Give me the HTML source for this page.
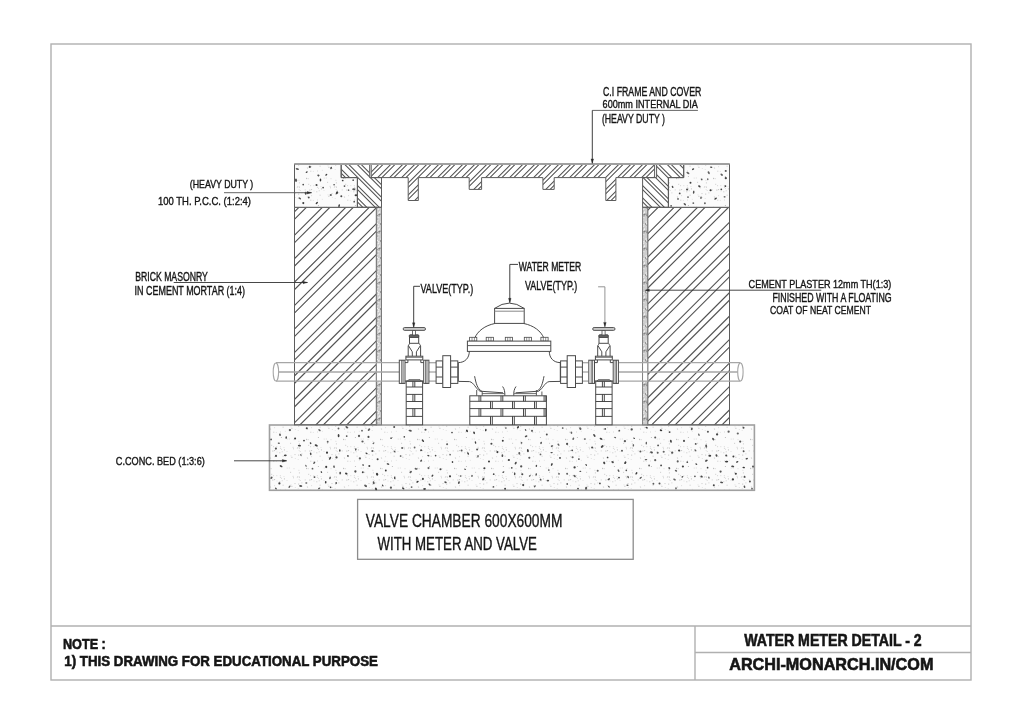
<!DOCTYPE html>
<html><head><meta charset="utf-8"><style>
html,body{margin:0;padding:0;background:#fff;}
svg{display:block;filter:grayscale(100%);}
</style></head><body>
<svg width="1024" height="724" viewBox="0 0 1024 724">
<defs><pattern id="spk" patternUnits="userSpaceOnUse" x="0" y="0" width="37" height="29"><rect x="11.7" y="4.2" width="1" height="1" fill="#d0d0d0"/><rect x="2.6" y="15.0" width="1" height="1" fill="#e2e2e2"/><rect x="21.0" y="25.5" width="1" height="1" fill="#dadada"/><rect x="1.3" y="12.1" width="1" height="1" fill="#d0d0d0"/><rect x="8.7" y="15.4" width="1" height="1" fill="#d0d0d0"/><rect x="29.8" y="3.5" width="1" height="1" fill="#dadada"/><rect x="22.7" y="16.3" width="1" height="1" fill="#d0d0d0"/><rect x="20.8" y="11.1" width="1" height="1" fill="#dadada"/><rect x="1.7" y="24.0" width="1" height="1" fill="#e2e2e2"/><rect x="15.1" y="15.1" width="1" height="1" fill="#bdbdbd"/><rect x="11.1" y="22.9" width="1" height="1" fill="#dadada"/><rect x="3.7" y="16.0" width="1" height="1" fill="#dadada"/><rect x="13.4" y="15.3" width="1" height="1" fill="#d0d0d0"/><rect x="20.3" y="17.3" width="1" height="1" fill="#c8c8c8"/><rect x="24.5" y="12.0" width="1" height="1" fill="#e2e2e2"/><rect x="16.8" y="25.9" width="1" height="1" fill="#e2e2e2"/><rect x="10.8" y="22.2" width="1" height="1" fill="#dadada"/><rect x="2.9" y="8.4" width="1" height="1" fill="#c8c8c8"/><rect x="31.5" y="20.4" width="1" height="1" fill="#e2e2e2"/><rect x="21.9" y="2.0" width="1" height="1" fill="#bdbdbd"/><rect x="15.1" y="21.2" width="1" height="1" fill="#dadada"/><rect x="33.6" y="11.8" width="1" height="1" fill="#d0d0d0"/><rect x="27.5" y="16.0" width="1" height="1" fill="#e2e2e2"/><rect x="12.2" y="9.8" width="1" height="1" fill="#c8c8c8"/><rect x="20.9" y="12.8" width="1" height="1" fill="#d0d0d0"/><rect x="34.0" y="13.3" width="1" height="1" fill="#d0d0d0"/><rect x="2.2" y="19.6" width="1" height="1" fill="#bdbdbd"/><rect x="35.8" y="23.0" width="1" height="1" fill="#e2e2e2"/><rect x="25.8" y="24.8" width="1" height="1" fill="#e2e2e2"/><rect x="0.8" y="12.9" width="1" height="1" fill="#dadada"/><rect x="22.0" y="13.8" width="1" height="1" fill="#dadada"/><rect x="27.7" y="3.6" width="1" height="1" fill="#dadada"/><rect x="14.3" y="25.7" width="1" height="1" fill="#c8c8c8"/><rect x="2.9" y="12.6" width="1" height="1" fill="#bdbdbd"/><rect x="10.0" y="3.8" width="1" height="1" fill="#c8c8c8"/><rect x="31.1" y="7.8" width="1" height="1" fill="#c8c8c8"/><rect x="35.5" y="19.1" width="1" height="1" fill="#c8c8c8"/><rect x="34.5" y="4.2" width="1" height="1" fill="#dadada"/><rect x="5.4" y="18.4" width="1" height="1" fill="#d0d0d0"/><rect x="17.5" y="16.5" width="1" height="1" fill="#e2e2e2"/><rect x="10.1" y="4.1" width="1" height="1" fill="#bdbdbd"/><rect x="13.3" y="15.9" width="1" height="1" fill="#dadada"/><rect x="24.9" y="14.4" width="1" height="1" fill="#bdbdbd"/><rect x="23.6" y="20.7" width="1" height="1" fill="#c8c8c8"/><rect x="32.4" y="21.8" width="1" height="1" fill="#bdbdbd"/><rect x="14.1" y="11.2" width="1" height="1" fill="#d0d0d0"/><rect x="17.3" y="11.2" width="1" height="1" fill="#dadada"/><rect x="2.4" y="5.8" width="1" height="1" fill="#dadada"/></pattern><pattern id="spk2" patternUnits="userSpaceOnUse" x="0" y="0" width="5" height="17"><rect x="0.4" y="9.6" width="1.2" height="1.2" fill="#777777"/><rect x="0.0" y="2.4" width="1.2" height="1.2" fill="#777777"/><rect x="3.8" y="9.8" width="1.2" height="1.2" fill="#777777"/><rect x="3.5" y="9.8" width="1.2" height="1.2" fill="#8a8a8a"/><rect x="2.5" y="15.3" width="1.2" height="1.2" fill="#f4f4f4"/><rect x="1.5" y="2.0" width="1.2" height="1.2" fill="#ffffff"/><rect x="4.0" y="7.5" width="1.2" height="1.2" fill="#ffffff"/><rect x="1.2" y="2.3" width="1.2" height="1.2" fill="#eeeeee"/><rect x="1.4" y="4.2" width="1.2" height="1.2" fill="#eeeeee"/><rect x="0.6" y="0.4" width="1.2" height="1.2" fill="#f4f4f4"/><rect x="1.4" y="11.0" width="1.2" height="1.2" fill="#777777"/><rect x="3.0" y="4.8" width="1.2" height="1.2" fill="#eeeeee"/><rect x="3.5" y="11.1" width="1.2" height="1.2" fill="#9a9a9a"/><rect x="2.1" y="14.5" width="1.2" height="1.2" fill="#9a9a9a"/><rect x="3.1" y="8.5" width="1.2" height="1.2" fill="#f4f4f4"/><rect x="1.3" y="3.6" width="1.2" height="1.2" fill="#8a8a8a"/><rect x="3.2" y="13.1" width="1.2" height="1.2" fill="#eeeeee"/><rect x="3.2" y="3.2" width="1.2" height="1.2" fill="#ffffff"/></pattern><clipPath id="cp1"><polygon points="294.5,207.3 376.4,207.3 376.4,424.8 294.5,424.8"/></clipPath><clipPath id="cp2"><polygon points="647.7,207.3 729.5,207.3 729.5,424.8 647.7,424.8"/></clipPath><clipPath id="cp3"><polygon points="341.2,163.9 369.7,163.9 369.7,177.6 381.5,177.6 381.5,207.3 357.4,207.3 357.4,177.6 341.2,177.6"/></clipPath><clipPath id="cp4"><polygon points="656.6,163.9 683.7,163.9 683.7,177.6 668.4,177.6 668.4,207.3 642.6,207.3 642.6,177.6 656.6,177.6"/></clipPath><clipPath id="cp5"><polygon points="371.2,163.9 654.6,163.9 654.6,177.6 615.9,177.6 615.9,200.5 605.8,200.5 605.8,177.6 554.2,177.6 554.2,189.4 542.9,189.4 542.9,177.6 481.6,177.6 481.6,189.4 469.2,189.4 469.2,177.6 418.3,177.6 418.3,200.5 408.2,200.5 408.2,177.6 371.2,177.6"/></clipPath></defs>
<rect x="0" y="0" width="1024" height="724" fill="#fff"/>
<rect x="51" y="44" width="920" height="636" fill="none" stroke="#b0b0b0" stroke-width="1.4" />
<line x1="51" y1="626" x2="971" y2="626" stroke="#b0b0b0" stroke-width="1.4" />
<line x1="695" y1="626" x2="695" y2="680" stroke="#b0b0b0" stroke-width="1.4" />
<line x1="695" y1="652.5" x2="971" y2="652.5" stroke="#b0b0b0" stroke-width="1.4" />
<rect x="269.5" y="425.0" width="484.9" height="65.30000000000001" fill="#fbfbfb" stroke="none" stroke-width="0" />
<rect x="269.5" y="425.0" width="484.9" height="65.30000000000001" fill="url(#spk)" stroke="#a0a0a0" stroke-width="1.6" />
<circle cx="489.0" cy="461.4" r="1.01" fill="#3b3b3b"/><ellipse cx="716.5" cy="455.5" rx="1.33" ry="0.97" transform="rotate(71 716.5 455.5)" fill="#464646"/><ellipse cx="515.7" cy="463.1" rx="1.46" ry="0.91" transform="rotate(118 515.7 463.1)" fill="#464646"/><circle cx="359.9" cy="458.4" r="1.15" fill="#616161"/><ellipse cx="574.6" cy="476.0" rx="1.41" ry="0.86" transform="rotate(40 574.6 476.0)" fill="#5b5b5b"/><ellipse cx="316.2" cy="445.3" rx="1.63" ry="0.97" transform="rotate(23 316.2 445.3)" fill="#3d3d3d"/><circle cx="314.5" cy="477.1" r="0.96" fill="#494949"/><circle cx="605.2" cy="428.9" r="0.90" fill="#4b4b4b"/><ellipse cx="744.5" cy="486.8" rx="1.25" ry="0.83" transform="rotate(72 744.5 486.8)" fill="#535353"/><ellipse cx="586.2" cy="464.9" rx="1.06" ry="0.64" transform="rotate(56 586.2 464.9)" fill="#383838"/><ellipse cx="346.8" cy="427.2" rx="1.56" ry="0.95" transform="rotate(36 346.8 427.2)" fill="#555555"/><ellipse cx="525.6" cy="430.0" rx="1.10" ry="0.64" transform="rotate(64 525.6 430.0)" fill="#4b4b4b"/><circle cx="362.5" cy="441.5" r="1.11" fill="#5a5a5a"/><ellipse cx="285.3" cy="455.4" rx="1.42" ry="0.83" transform="rotate(176 285.3 455.4)" fill="#434343"/><ellipse cx="483.3" cy="479.1" rx="1.35" ry="0.97" transform="rotate(128 483.3 479.1)" fill="#484848"/><circle cx="521.2" cy="466.4" r="1.13" fill="#535353"/><circle cx="511.8" cy="467.8" r="0.86" fill="#4a4a4a"/><circle cx="491.4" cy="443.7" r="1.04" fill="#484848"/><circle cx="752.0" cy="488.7" r="0.88" fill="#616161"/><ellipse cx="676.0" cy="470.7" rx="1.21" ry="0.85" transform="rotate(21 676.0 470.7)" fill="#616161"/><ellipse cx="422.9" cy="440.7" rx="1.55" ry="0.86" transform="rotate(50 422.9 440.7)" fill="#424242"/><ellipse cx="410.2" cy="430.7" rx="1.68" ry="0.86" transform="rotate(13 410.2 430.7)" fill="#535353"/><circle cx="640.4" cy="451.4" r="1.01" fill="#595959"/><circle cx="679.1" cy="450.5" r="1.08" fill="#3c3c3c"/><circle cx="732.9" cy="479.4" r="1.15" fill="#434343"/><circle cx="271.1" cy="439.4" r="0.90" fill="#5a5a5a"/><ellipse cx="709.8" cy="455.8" rx="1.44" ry="0.97" transform="rotate(6 709.8 455.8)" fill="#404040"/><circle cx="743.6" cy="451.2" r="0.93" fill="#565656"/><ellipse cx="306.0" cy="465.8" rx="1.11" ry="0.62" transform="rotate(58 306.0 465.8)" fill="#606060"/><ellipse cx="646.3" cy="443.2" rx="1.34" ry="0.71" transform="rotate(94 646.3 443.2)" fill="#5f5f5f"/><circle cx="735.8" cy="473.8" r="1.07" fill="#414141"/><circle cx="327.7" cy="441.7" r="0.95" fill="#616161"/><ellipse cx="319.5" cy="430.1" rx="1.44" ry="0.85" transform="rotate(42 319.5 430.1)" fill="#646464"/><circle cx="655.2" cy="437.4" r="1.00" fill="#565656"/><circle cx="540.5" cy="454.4" r="0.87" fill="#646464"/><circle cx="362.8" cy="472.2" r="0.96" fill="#424242"/><ellipse cx="334.0" cy="466.7" rx="1.35" ry="0.81" transform="rotate(78 334.0 466.7)" fill="#5d5d5d"/><circle cx="327.0" cy="452.7" r="1.08" fill="#3b3b3b"/><ellipse cx="373.5" cy="443.2" rx="1.10" ry="0.67" transform="rotate(142 373.5 443.2)" fill="#5f5f5f"/><ellipse cx="417.5" cy="481.8" rx="1.29" ry="0.82" transform="rotate(148 417.5 481.8)" fill="#393939"/><circle cx="372.4" cy="451.0" r="1.07" fill="#565656"/><circle cx="682.9" cy="466.5" r="1.09" fill="#414141"/><ellipse cx="319.2" cy="488.3" rx="1.27" ry="0.68" transform="rotate(150 319.2 488.3)" fill="#565656"/><ellipse cx="314.3" cy="462.8" rx="1.40" ry="0.73" transform="rotate(127 314.3 462.8)" fill="#4e4e4e"/><ellipse cx="388.0" cy="464.0" rx="1.42" ry="0.96" transform="rotate(26 388.0 464.0)" fill="#5d5d5d"/><circle cx="450.1" cy="454.7" r="0.81" fill="#464646"/><circle cx="733.4" cy="456.6" r="0.98" fill="#3c3c3c"/><ellipse cx="547.9" cy="480.6" rx="1.27" ry="0.81" transform="rotate(175 547.9 480.6)" fill="#525252"/><circle cx="359.0" cy="436.0" r="1.14" fill="#5e5e5e"/><ellipse cx="708.9" cy="477.6" rx="1.09" ry="0.71" transform="rotate(75 708.9 477.6)" fill="#5a5a5a"/><circle cx="391.1" cy="438.2" r="0.91" fill="#5e5e5e"/><ellipse cx="627.4" cy="485.3" rx="1.12" ry="0.76" transform="rotate(11 627.4 485.3)" fill="#5c5c5c"/><ellipse cx="365.6" cy="485.9" rx="1.61" ry="1.03" transform="rotate(32 365.6 485.9)" fill="#5c5c5c"/><ellipse cx="696.3" cy="464.1" rx="1.14" ry="0.69" transform="rotate(39 696.3 464.1)" fill="#4f4f4f"/><ellipse cx="474.1" cy="432.8" rx="1.37" ry="0.90" transform="rotate(72 474.1 432.8)" fill="#414141"/><ellipse cx="289.5" cy="486.7" rx="1.41" ry="0.76" transform="rotate(122 289.5 486.7)" fill="#565656"/><circle cx="385.8" cy="470.5" r="0.93" fill="#3b3b3b"/><ellipse cx="394.7" cy="477.9" rx="1.28" ry="0.76" transform="rotate(93 394.7 477.9)" fill="#484848"/><ellipse cx="558.5" cy="444.7" rx="1.31" ry="0.78" transform="rotate(48 558.5 444.7)" fill="#606060"/><circle cx="355.4" cy="471.5" r="1.13" fill="#4e4e4e"/><circle cx="304.0" cy="440.6" r="0.88" fill="#3e3e3e"/><circle cx="540.6" cy="479.7" r="0.91" fill="#4f4f4f"/><circle cx="567.1" cy="443.9" r="1.10" fill="#4f4f4f"/><ellipse cx="713.2" cy="439.1" rx="1.48" ry="0.91" transform="rotate(54 713.2 439.1)" fill="#585858"/><ellipse cx="278.8" cy="443.2" rx="1.12" ry="0.72" transform="rotate(6 278.8 443.2)" fill="#575757"/><ellipse cx="485.8" cy="430.1" rx="1.28" ry="0.83" transform="rotate(99 485.8 430.1)" fill="#3f3f3f"/><ellipse cx="355.8" cy="449.4" rx="1.24" ry="0.72" transform="rotate(96 355.8 449.4)" fill="#444444"/><circle cx="546.8" cy="434.5" r="0.98" fill="#4d4d4d"/><ellipse cx="445.5" cy="482.2" rx="1.31" ry="0.81" transform="rotate(25 445.5 482.2)" fill="#4d4d4d"/><ellipse cx="743.7" cy="467.5" rx="1.25" ry="0.86" transform="rotate(176 743.7 467.5)" fill="#373737"/><ellipse cx="604.2" cy="462.9" rx="1.39" ry="1.02" transform="rotate(64 604.2 462.9)" fill="#444444"/><circle cx="338.5" cy="428.5" r="0.93" fill="#5f5f5f"/><circle cx="279.4" cy="483.4" r="1.08" fill="#3e3e3e"/><ellipse cx="608.9" cy="486.7" rx="1.16" ry="0.65" transform="rotate(51 608.9 486.7)" fill="#4f4f4f"/><ellipse cx="281.1" cy="466.2" rx="1.57" ry="0.90" transform="rotate(30 281.1 466.2)" fill="#434343"/><ellipse cx="503.4" cy="472.1" rx="1.12" ry="0.67" transform="rotate(145 503.4 472.1)" fill="#4c4c4c"/><ellipse cx="424.6" cy="489.0" rx="1.45" ry="0.90" transform="rotate(4 424.6 489.0)" fill="#4a4a4a"/><circle cx="626.3" cy="470.4" r="0.82" fill="#505050"/><circle cx="653.4" cy="483.7" r="0.93" fill="#5c5c5c"/><circle cx="440.5" cy="469.3" r="1.05" fill="#474747"/><ellipse cx="472.0" cy="475.9" rx="1.04" ry="0.72" transform="rotate(102 472.0 475.9)" fill="#4b4b4b"/><circle cx="687.3" cy="462.2" r="0.87" fill="#555555"/><circle cx="572.2" cy="450.3" r="0.92" fill="#4e4e4e"/><ellipse cx="551.8" cy="464.5" rx="1.45" ry="0.87" transform="rotate(113 551.8 464.5)" fill="#444444"/><circle cx="749.9" cy="481.5" r="0.95" fill="#484848"/><circle cx="622.0" cy="450.7" r="0.96" fill="#535353"/><ellipse cx="625.3" cy="462.7" rx="1.43" ry="0.95" transform="rotate(123 625.3 462.7)" fill="#393939"/><circle cx="502.8" cy="440.7" r="0.97" fill="#383838"/><circle cx="607.6" cy="457.5" r="0.87" fill="#454545"/><circle cx="567.2" cy="484.0" r="0.88" fill="#585858"/><circle cx="394.2" cy="427.0" r="0.99" fill="#505050"/><ellipse cx="416.0" cy="468.8" rx="1.43" ry="0.92" transform="rotate(14 416.0 468.8)" fill="#606060"/><circle cx="368.5" cy="436.9" r="1.04" fill="#4c4c4c"/><circle cx="707.6" cy="467.7" r="0.84" fill="#383838"/><circle cx="428.5" cy="468.1" r="1.05" fill="#636363"/><ellipse cx="366.5" cy="453.3" rx="1.19" ry="0.72" transform="rotate(29 366.5 453.3)" fill="#434343"/><circle cx="659.5" cy="483.6" r="1.00" fill="#4e4e4e"/><ellipse cx="695.4" cy="450.4" rx="1.18" ry="0.76" transform="rotate(43 695.4 450.4)" fill="#616161"/><ellipse cx="552.0" cy="446.1" rx="1.29" ry="0.79" transform="rotate(158 552.0 446.1)" fill="#575757"/><circle cx="336.5" cy="457.4" r="1.11" fill="#4a4a4a"/><ellipse cx="674.5" cy="479.5" rx="1.40" ry="0.89" transform="rotate(29 674.5 479.5)" fill="#626262"/><circle cx="404.3" cy="436.9" r="0.82" fill="#474747"/><circle cx="572.6" cy="457.3" r="1.06" fill="#636363"/><circle cx="422.9" cy="478.9" r="1.05" fill="#474747"/><circle cx="306.8" cy="428.3" r="1.04" fill="#424242"/><ellipse cx="691.8" cy="428.9" rx="1.41" ry="0.95" transform="rotate(102 691.8 428.9)" fill="#5b5b5b"/><ellipse cx="612.6" cy="462.1" rx="1.34" ry="0.90" transform="rotate(23 612.6 462.1)" fill="#484848"/><ellipse cx="280.0" cy="434.8" rx="1.24" ry="0.80" transform="rotate(85 280.0 434.8)" fill="#424242"/><ellipse cx="670.9" cy="441.2" rx="1.56" ry="0.93" transform="rotate(75 670.9 441.2)" fill="#484848"/><circle cx="574.6" cy="467.4" r="1.13" fill="#3f3f3f"/><ellipse cx="600.9" cy="438.8" rx="1.37" ry="0.90" transform="rotate(35 600.9 438.8)" fill="#3e3e3e"/><circle cx="276.0" cy="455.9" r="1.08" fill="#505050"/><ellipse cx="615.2" cy="437.5" rx="0.99" ry="0.68" transform="rotate(31 615.2 437.5)" fill="#595959"/><circle cx="402.2" cy="448.0" r="1.10" fill="#606060"/><circle cx="567.1" cy="473.7" r="0.94" fill="#5e5e5e"/><circle cx="460.6" cy="476.0" r="0.85" fill="#5b5b5b"/><circle cx="707.9" cy="431.8" r="1.04" fill="#595959"/><circle cx="720.6" cy="471.6" r="1.10" fill="#535353"/><ellipse cx="452.5" cy="462.0" rx="1.04" ry="0.78" transform="rotate(78 452.5 462.0)" fill="#474747"/><circle cx="694.9" cy="476.3" r="0.89" fill="#5b5b5b"/><circle cx="726.2" cy="455.4" r="1.02" fill="#484848"/><circle cx="584.9" cy="439.1" r="0.83" fill="#434343"/><circle cx="619.0" cy="477.6" r="0.89" fill="#3a3a3a"/><ellipse cx="580.3" cy="471.3" rx="1.04" ry="0.62" transform="rotate(1 580.3 471.3)" fill="#4a4a4a"/><ellipse cx="373.7" cy="482.7" rx="1.55" ry="0.89" transform="rotate(75 373.7 482.7)" fill="#515151"/><ellipse cx="529.8" cy="475.9" rx="1.05" ry="0.65" transform="rotate(149 529.8 475.9)" fill="#5a5a5a"/><ellipse cx="310.7" cy="453.9" rx="1.31" ry="0.81" transform="rotate(80 310.7 453.9)" fill="#464646"/><ellipse cx="536.2" cy="474.5" rx="1.21" ry="0.69" transform="rotate(97 536.2 474.5)" fill="#383838"/><circle cx="505.9" cy="428.1" r="0.81" fill="#5a5a5a"/><ellipse cx="661.0" cy="430.3" rx="1.28" ry="0.89" transform="rotate(11 661.0 430.3)" fill="#373737"/><ellipse cx="432.4" cy="475.7" rx="1.18" ry="0.81" transform="rotate(132 432.4 475.7)" fill="#464646"/><ellipse cx="338.6" cy="435.6" rx="1.58" ry="0.91" transform="rotate(87 338.6 435.6)" fill="#3d3d3d"/><circle cx="728.6" cy="431.7" r="1.11" fill="#5e5e5e"/><circle cx="377.6" cy="459.3" r="1.00" fill="#454545"/><ellipse cx="410.7" cy="472.0" rx="1.38" ry="0.92" transform="rotate(146 410.7 472.0)" fill="#575757"/><circle cx="578.9" cy="459.1" r="0.92" fill="#484848"/><circle cx="677.7" cy="461.4" r="1.03" fill="#5d5d5d"/><circle cx="421.1" cy="450.2" r="0.92" fill="#424242"/><circle cx="529.3" cy="457.8" r="1.06" fill="#595959"/><circle cx="562.7" cy="428.0" r="0.87" fill="#4d4d4d"/><circle cx="400.6" cy="456.0" r="0.85" fill="#4d4d4d"/><ellipse cx="363.1" cy="465.0" rx="1.05" ry="0.69" transform="rotate(73 363.1 465.0)" fill="#505050"/><circle cx="717.1" cy="434.4" r="1.13" fill="#444444"/><ellipse cx="646.7" cy="427.7" rx="1.29" ry="0.72" transform="rotate(20 646.7 427.7)" fill="#3b3b3b"/><ellipse cx="602.2" cy="446.5" rx="1.67" ry="1.04" transform="rotate(140 602.2 446.5)" fill="#454545"/><ellipse cx="321.4" cy="472.1" rx="1.03" ry="0.68" transform="rotate(58 321.4 472.1)" fill="#4f4f4f"/><ellipse cx="330.0" cy="458.3" rx="1.69" ry="0.87" transform="rotate(119 330.0 458.3)" fill="#404040"/><ellipse cx="526.1" cy="436.3" rx="1.41" ry="0.86" transform="rotate(154 526.1 436.3)" fill="#4d4d4d"/><circle cx="369.3" cy="465.9" r="1.00" fill="#3e3e3e"/><circle cx="684.0" cy="440.9" r="1.06" fill="#545454"/><ellipse cx="628.1" cy="477.1" rx="1.31" ry="0.73" transform="rotate(68 628.1 477.1)" fill="#4f4f4f"/><ellipse cx="706.2" cy="446.1" rx="1.55" ry="0.97" transform="rotate(80 706.2 446.1)" fill="#585858"/><ellipse cx="376.0" cy="488.9" rx="1.44" ry="0.98" transform="rotate(59 376.0 488.9)" fill="#404040"/><ellipse cx="698.9" cy="434.7" rx="1.26" ry="0.67" transform="rotate(72 698.9 434.7)" fill="#555555"/><circle cx="672.2" cy="452.7" r="1.15" fill="#565656"/><ellipse cx="465.1" cy="469.3" rx="1.07" ry="0.67" transform="rotate(26 465.1 469.3)" fill="#606060"/><circle cx="599.9" cy="483.4" r="0.89" fill="#474747"/><circle cx="737.8" cy="433.5" r="1.10" fill="#646464"/><ellipse cx="514.7" cy="473.8" rx="1.43" ry="0.77" transform="rotate(97 514.7 473.8)" fill="#4d4d4d"/><circle cx="362.0" cy="430.7" r="0.90" fill="#606060"/><ellipse cx="676.0" cy="488.4" rx="1.07" ry="0.76" transform="rotate(88 676.0 488.4)" fill="#535353"/><ellipse cx="300.7" cy="486.0" rx="1.63" ry="1.00" transform="rotate(12 300.7 486.0)" fill="#5a5a5a"/><circle cx="493.7" cy="474.2" r="0.86" fill="#4c4c4c"/><ellipse cx="428.4" cy="455.6" rx="1.16" ry="0.76" transform="rotate(21 428.4 455.6)" fill="#454545"/><ellipse cx="519.3" cy="453.3" rx="1.35" ry="0.97" transform="rotate(88 519.3 453.3)" fill="#5e5e5e"/><ellipse cx="608.9" cy="479.2" rx="1.24" ry="0.87" transform="rotate(131 608.9 479.2)" fill="#4b4b4b"/><ellipse cx="518.0" cy="427.3" rx="1.38" ry="0.89" transform="rotate(126 518.0 427.3)" fill="#373737"/><ellipse cx="701.6" cy="476.6" rx="1.28" ry="0.92" transform="rotate(33 701.6 476.6)" fill="#444444"/><circle cx="560.0" cy="457.9" r="0.96" fill="#3f3f3f"/><ellipse cx="744.7" cy="476.8" rx="1.12" ry="0.85" transform="rotate(64 744.7 476.8)" fill="#4d4d4d"/><circle cx="663.7" cy="451.7" r="1.04" fill="#646464"/><circle cx="619.3" cy="430.7" r="0.91" fill="#515151"/><circle cx="435.6" cy="455.7" r="0.83" fill="#484848"/><circle cx="275.9" cy="448.6" r="1.09" fill="#515151"/><ellipse cx="382.7" cy="485.5" rx="1.19" ry="0.67" transform="rotate(62 382.7 485.5)" fill="#3e3e3e"/><circle cx="592.1" cy="447.5" r="1.00" fill="#494949"/><ellipse cx="527.9" cy="450.7" rx="1.64" ry="0.92" transform="rotate(82 527.9 450.7)" fill="#3c3c3c"/><circle cx="753.0" cy="466.6" r="1.06" fill="#5d5d5d"/><circle cx="743.5" cy="427.7" r="1.02" fill="#4e4e4e"/><ellipse cx="394.6" cy="451.5" rx="1.26" ry="0.68" transform="rotate(48 394.6 451.5)" fill="#535353"/><circle cx="295.1" cy="438.6" r="1.01" fill="#373737"/><circle cx="452.0" cy="432.5" r="0.85" fill="#474747"/><ellipse cx="737.2" cy="461.9" rx="1.24" ry="0.77" transform="rotate(153 737.2 461.9)" fill="#3d3d3d"/><circle cx="559.0" cy="473.9" r="0.83" fill="#444444"/><circle cx="347.9" cy="455.9" r="0.93" fill="#4e4e4e"/><circle cx="447.1" cy="444.2" r="1.01" fill="#636363"/><ellipse cx="346.3" cy="473.6" rx="1.36" ry="0.87" transform="rotate(28 346.3 473.6)" fill="#383838"/><ellipse cx="458.9" cy="482.6" rx="1.46" ry="0.92" transform="rotate(109 458.9 482.6)" fill="#555555"/><circle cx="631.7" cy="429.4" r="1.15" fill="#505050"/><ellipse cx="306.3" cy="483.1" rx="1.07" ry="0.74" transform="rotate(180 306.3 483.1)" fill="#595959"/><ellipse cx="478.0" cy="456.2" rx="1.29" ry="0.80" transform="rotate(93 478.0 456.2)" fill="#606060"/><circle cx="740.2" cy="441.6" r="1.09" fill="#575757"/><circle cx="523.2" cy="485.1" r="1.06" fill="#3c3c3c"/><ellipse cx="369.0" cy="429.6" rx="1.45" ry="1.04" transform="rotate(134 369.0 429.6)" fill="#636363"/><circle cx="484.4" cy="468.2" r="1.06" fill="#3e3e3e"/><ellipse cx="551.6" cy="452.6" rx="1.26" ry="0.65" transform="rotate(170 551.6 452.6)" fill="#4e4e4e"/><ellipse cx="646.0" cy="459.6" rx="1.32" ry="0.71" transform="rotate(175 646.0 459.6)" fill="#595959"/><circle cx="624.9" cy="441.2" r="1.15" fill="#5b5b5b"/><ellipse cx="325.7" cy="482.3" rx="1.29" ry="0.82" transform="rotate(92 325.7 482.3)" fill="#3f3f3f"/><circle cx="649.1" cy="465.5" r="0.89" fill="#5c5c5c"/><ellipse cx="634.1" cy="438.2" rx="1.01" ry="0.64" transform="rotate(31 634.1 438.2)" fill="#444444"/><circle cx="390.9" cy="487.7" r="1.11" fill="#575757"/><circle cx="289.9" cy="430.1" r="1.14" fill="#585858"/><ellipse cx="571.4" cy="432.7" rx="1.22" ry="0.79" transform="rotate(74 571.4 432.7)" fill="#646464"/><circle cx="532.0" cy="430.8" r="1.09" fill="#646464"/><circle cx="312.5" cy="468.7" r="0.90" fill="#5e5e5e"/><ellipse cx="536.4" cy="465.9" rx="1.20" ry="0.76" transform="rotate(98 536.4 465.9)" fill="#4a4a4a"/><circle cx="661.1" cy="465.4" r="0.94" fill="#4a4a4a"/><ellipse cx="475.5" cy="442.5" rx="1.31" ry="0.70" transform="rotate(75 475.5 442.5)" fill="#3e3e3e"/><ellipse cx="586.1" cy="488.3" rx="1.55" ry="1.07" transform="rotate(102 586.1 488.3)" fill="#5a5a5a"/><circle cx="477.1" cy="449.5" r="0.94" fill="#4a4a4a"/><circle cx="713.8" cy="485.2" r="1.01" fill="#454545"/><circle cx="658.1" cy="445.4" r="0.95" fill="#555555"/><ellipse cx="721.6" cy="482.4" rx="1.49" ry="0.78" transform="rotate(9 721.6 482.4)" fill="#4c4c4c"/><circle cx="461.6" cy="450.6" r="0.98" fill="#5a5a5a"/><circle cx="655.2" cy="460.2" r="1.09" fill="#626262"/><circle cx="695.7" cy="443.9" r="0.93" fill="#4b4b4b"/><ellipse cx="340.2" cy="473.1" rx="1.36" ry="0.94" transform="rotate(88 340.2 473.1)" fill="#585858"/><ellipse cx="377.1" cy="474.3" rx="1.45" ry="1.07" transform="rotate(64 377.1 474.3)" fill="#373737"/><circle cx="522.3" cy="474.2" r="1.04" fill="#4a4a4a"/><circle cx="508.9" cy="460.0" r="1.07" fill="#3a3a3a"/><ellipse cx="618.5" cy="470.7" rx="1.42" ry="0.77" transform="rotate(62 618.5 470.7)" fill="#585858"/><ellipse cx="669.3" cy="468.1" rx="1.23" ry="0.87" transform="rotate(67 669.3 468.1)" fill="#525252"/><ellipse cx="682.4" cy="476.8" rx="1.08" ry="0.68" transform="rotate(150 682.4 476.8)" fill="#505050"/><ellipse cx="732.7" cy="466.4" rx="1.55" ry="0.83" transform="rotate(10 732.7 466.4)" fill="#494949"/><circle cx="657.7" cy="452.7" r="1.02" fill="#5a5a5a"/><circle cx="411.6" cy="487.1" r="0.92" fill="#646464"/><ellipse cx="299.4" cy="445.6" rx="1.60" ry="0.94" transform="rotate(1 299.4 445.6)" fill="#444444"/><circle cx="326.2" cy="466.9" r="1.04" fill="#3b3b3b"/><ellipse cx="300.9" cy="455.1" rx="1.11" ry="0.69" transform="rotate(68 300.9 455.1)" fill="#626262"/><ellipse cx="421.1" cy="460.7" rx="1.22" ry="0.79" transform="rotate(131 421.1 460.7)" fill="#4b4b4b"/><ellipse cx="534.8" cy="486.3" rx="1.22" ry="0.82" transform="rotate(127 534.8 486.3)" fill="#5a5a5a"/><ellipse cx="403.2" cy="488.4" rx="1.36" ry="0.88" transform="rotate(38 403.2 488.4)" fill="#3e3e3e"/><circle cx="450.0" cy="476.3" r="1.09" fill="#3e3e3e"/><circle cx="346.7" cy="436.1" r="0.90" fill="#515151"/><circle cx="578.0" cy="488.6" r="0.95" fill="#4f4f4f"/><ellipse cx="271.5" cy="477.8" rx="1.38" ry="0.95" transform="rotate(124 271.5 477.8)" fill="#565656"/><ellipse cx="310.6" cy="443.2" rx="1.01" ry="0.77" transform="rotate(58 310.6 443.2)" fill="#414141"/><ellipse cx="502.4" cy="455.7" rx="1.35" ry="0.89" transform="rotate(94 502.4 455.7)" fill="#4f4f4f"/><ellipse cx="651.5" cy="452.4" rx="1.54" ry="0.91" transform="rotate(27 651.5 452.4)" fill="#4d4d4d"/><circle cx="493.5" cy="486.9" r="0.83" fill="#565656"/><ellipse cx="275.9" cy="488.5" rx="1.09" ry="0.82" transform="rotate(46 275.9 488.5)" fill="#515151"/><circle cx="414.6" cy="447.5" r="0.93" fill="#646464"/><ellipse cx="726.6" cy="461.6" rx="1.65" ry="0.94" transform="rotate(176 726.6 461.6)" fill="#3b3b3b"/><circle cx="669.6" cy="432.1" r="0.97" fill="#454545"/><circle cx="597.7" cy="470.7" r="1.02" fill="#626262"/><ellipse cx="467.0" cy="430.9" rx="1.37" ry="0.93" transform="rotate(63 467.0 430.9)" fill="#393939"/><ellipse cx="640.7" cy="477.8" rx="1.40" ry="0.75" transform="rotate(138 640.7 477.8)" fill="#535353"/><ellipse cx="706.3" cy="460.7" rx="1.53" ry="0.88" transform="rotate(155 706.3 460.7)" fill="#444444"/><ellipse cx="746.7" cy="458.7" rx="1.27" ry="0.76" transform="rotate(162 746.7 458.7)" fill="#434343"/><ellipse cx="573.3" cy="438.7" rx="1.34" ry="0.88" transform="rotate(109 573.3 438.7)" fill="#646464"/><circle cx="548.8" cy="470.0" r="0.84" fill="#4d4d4d"/><ellipse cx="429.6" cy="484.6" rx="1.35" ry="0.79" transform="rotate(52 429.6 484.6)" fill="#474747"/><circle cx="330.6" cy="487.3" r="0.83" fill="#383838"/><circle cx="336.2" cy="483.0" r="0.90" fill="#575757"/><ellipse cx="541.1" cy="442.9" rx="1.28" ry="0.84" transform="rotate(110 541.1 442.9)" fill="#595959"/><ellipse cx="330.0" cy="478.0" rx="1.37" ry="0.80" transform="rotate(106 330.0 478.0)" fill="#616161"/><ellipse cx="286.2" cy="437.6" rx="1.28" ry="0.84" transform="rotate(98 286.2 437.6)" fill="#4e4e4e"/><ellipse cx="339.8" cy="450.5" rx="1.26" ry="0.75" transform="rotate(91 339.8 450.5)" fill="#444444"/><circle cx="521.5" cy="442.8" r="0.88" fill="#5a5a5a"/><ellipse cx="580.3" cy="428.7" rx="1.36" ry="1.06" transform="rotate(54 580.3 428.7)" fill="#616161"/><ellipse cx="594.4" cy="435.4" rx="1.66" ry="0.87" transform="rotate(56 594.4 435.4)" fill="#434343"/><circle cx="497.4" cy="452.1" r="1.03" fill="#3b3b3b"/><ellipse cx="636.4" cy="473.4" rx="1.38" ry="0.86" transform="rotate(123 636.4 473.4)" fill="#404040"/><circle cx="505.1" cy="488.7" r="0.98" fill="#3b3b3b"/><ellipse cx="468.1" cy="453.5" rx="1.40" ry="0.82" transform="rotate(64 468.1 453.5)" fill="#3c3c3c"/><circle cx="425.5" cy="429.7" r="1.05" fill="#515151"/><ellipse cx="633.4" cy="445.4" rx="1.29" ry="0.75" transform="rotate(100 633.4 445.4)" fill="#636363"/>
<path clip-path="url(#cp1)" d="M292.50,213.75L378.40,127.85M292.50,221.25L378.40,135.35M292.50,237.20L378.40,151.30M292.50,244.70L378.40,158.80M292.50,260.65L378.40,174.75M292.50,268.15L378.40,182.25M292.50,284.10L378.40,198.20M292.50,291.60L378.40,205.70M292.50,307.55L378.40,221.65M292.50,315.05L378.40,229.15M292.50,331.00L378.40,245.10M292.50,338.50L378.40,252.60M292.50,354.45L378.40,268.55M292.50,361.95L378.40,276.05M292.50,377.90L378.40,292.00M292.50,385.40L378.40,299.50M292.50,401.35L378.40,315.45M292.50,408.85L378.40,322.95M292.50,424.80L378.40,338.90M292.50,432.30L378.40,346.40M292.50,448.25L378.40,362.35M292.50,455.75L378.40,369.85M292.50,471.70L378.40,385.80M292.50,479.20L378.40,393.30M292.50,495.15L378.40,409.25M292.50,502.65L378.40,416.75" stroke="#525252" stroke-width="1.15" fill="none"/>
<rect x="294.5" y="207.3" width="81.89999999999998" height="217.5" fill="none" stroke="#5c5c5c" stroke-width="1.0" />
<path clip-path="url(#cp2)" d="M645.70,212.30L731.50,126.50M645.70,219.80L731.50,134.00M645.70,235.75L731.50,149.95M645.70,243.25L731.50,157.45M645.70,259.20L731.50,173.40M645.70,266.70L731.50,180.90M645.70,282.65L731.50,196.85M645.70,290.15L731.50,204.35M645.70,306.10L731.50,220.30M645.70,313.60L731.50,227.80M645.70,329.55L731.50,243.75M645.70,337.05L731.50,251.25M645.70,353.00L731.50,267.20M645.70,360.50L731.50,274.70M645.70,376.45L731.50,290.65M645.70,383.95L731.50,298.15M645.70,399.90L731.50,314.10M645.70,407.40L731.50,321.60M645.70,423.35L731.50,337.55M645.70,430.85L731.50,345.05M645.70,446.80L731.50,361.00M645.70,454.30L731.50,368.50M645.70,470.25L731.50,384.45M645.70,477.75L731.50,391.95M645.70,493.70L731.50,407.90M645.70,501.20L731.50,415.40" stroke="#525252" stroke-width="1.15" fill="none"/>
<rect x="647.7" y="207.3" width="81.79999999999995" height="217.5" fill="none" stroke="#5c5c5c" stroke-width="1.0" />
<rect x="376.4" y="207.3" width="5.100000000000023" height="217.5" fill="#cdcdcd" stroke="none" stroke-width="0" />
<rect x="376.4" y="207.3" width="5.100000000000023" height="217.5" fill="url(#spk2)" stroke="#7a7a7a" stroke-width="1.0" />
<rect x="642.6" y="207.3" width="5.100000000000023" height="217.5" fill="#cdcdcd" stroke="none" stroke-width="0" />
<rect x="642.6" y="207.3" width="5.100000000000023" height="217.5" fill="url(#spk2)" stroke="#7a7a7a" stroke-width="1.0" />
<polygon points="294.5,163.9 341.2,163.9 341.2,177.6 357.4,177.6 357.4,207.3 294.5,207.3" fill="#fbfbfb" stroke="none" stroke-width="0" />
<polygon points="294.5,163.9 341.2,163.9 341.2,177.6 357.4,177.6 357.4,207.3 294.5,207.3" fill="url(#spk)" stroke="#5c5c5c" stroke-width="1.0" />
<ellipse cx="305.7" cy="193.3" rx="1.46" ry="0.99" transform="rotate(79 305.7 193.3)" fill="#414141"/><circle cx="334.1" cy="184.7" r="0.82" fill="#494949"/><circle cx="308.8" cy="197.5" r="0.89" fill="#494949"/><circle cx="344.5" cy="186.1" r="0.89" fill="#505050"/><ellipse cx="326.3" cy="174.8" rx="1.23" ry="0.74" transform="rotate(134 326.3 174.8)" fill="#404040"/><ellipse cx="296.0" cy="180.3" rx="1.69" ry="1.06" transform="rotate(86 296.0 180.3)" fill="#585858"/><ellipse cx="331.1" cy="168.0" rx="1.23" ry="0.80" transform="rotate(108 331.1 168.0)" fill="#404040"/><circle cx="309.8" cy="166.9" r="1.10" fill="#4a4a4a"/><ellipse cx="356.0" cy="195.3" rx="1.41" ry="0.95" transform="rotate(2 356.0 195.3)" fill="#3f3f3f"/><circle cx="348.6" cy="190.3" r="0.81" fill="#5c5c5c"/><circle cx="353.2" cy="180.2" r="0.89" fill="#5c5c5c"/><circle cx="303.3" cy="203.1" r="1.04" fill="#3f3f3f"/><circle cx="323.1" cy="187.7" r="0.83" fill="#3d3d3d"/><circle cx="316.5" cy="185.0" r="1.02" fill="#404040"/><circle cx="354.2" cy="201.7" r="0.84" fill="#494949"/><circle cx="341.3" cy="196.3" r="0.99" fill="#4b4b4b"/><circle cx="330.8" cy="195.0" r="1.11" fill="#5e5e5e"/><circle cx="303.2" cy="184.6" r="0.86" fill="#4f4f4f"/><ellipse cx="320.5" cy="180.1" rx="1.51" ry="0.81" transform="rotate(91 320.5 180.1)" fill="#393939"/><ellipse cx="297.4" cy="169.0" rx="1.61" ry="0.88" transform="rotate(11 297.4 169.0)" fill="#4f4f4f"/><ellipse cx="339.1" cy="205.7" rx="1.49" ry="0.84" transform="rotate(109 339.1 205.7)" fill="#474747"/><ellipse cx="306.7" cy="172.1" rx="1.15" ry="0.74" transform="rotate(145 306.7 172.1)" fill="#494949"/><ellipse cx="316.8" cy="203.0" rx="1.48" ry="0.80" transform="rotate(132 316.8 203.0)" fill="#3a3a3a"/><ellipse cx="299.8" cy="198.4" rx="1.45" ry="0.85" transform="rotate(34 299.8 198.4)" fill="#585858"/><circle cx="342.7" cy="180.5" r="0.87" fill="#3b3b3b"/><ellipse cx="337.0" cy="192.8" rx="1.59" ry="1.05" transform="rotate(117 337.0 192.8)" fill="#3d3d3d"/><ellipse cx="353.8" cy="189.3" rx="1.59" ry="0.96" transform="rotate(4 353.8 189.3)" fill="#575757"/><ellipse cx="318.4" cy="175.3" rx="1.18" ry="0.87" transform="rotate(13 318.4 175.3)" fill="#4f4f4f"/>
<polygon points="683.7,163.9 729.5,163.9 729.5,207.3 668.4,207.3 668.4,177.6 683.7,177.6" fill="#fbfbfb" stroke="none" stroke-width="0" />
<polygon points="683.7,163.9 729.5,163.9 729.5,207.3 668.4,207.3 668.4,177.6 683.7,177.6" fill="url(#spk)" stroke="#5c5c5c" stroke-width="1.0" />
<circle cx="725.8" cy="170.9" r="0.95" fill="#484848"/><circle cx="671.1" cy="205.9" r="0.83" fill="#434343"/><ellipse cx="707.8" cy="179.3" rx="1.03" ry="0.63" transform="rotate(88 707.8 179.3)" fill="#444444"/><ellipse cx="721.7" cy="174.7" rx="1.39" ry="0.95" transform="rotate(37 721.7 174.7)" fill="#5c5c5c"/><circle cx="725.8" cy="178.2" r="1.12" fill="#424242"/><circle cx="704.9" cy="203.2" r="0.93" fill="#5e5e5e"/><ellipse cx="711.1" cy="167.2" rx="1.23" ry="0.73" transform="rotate(9 711.1 167.2)" fill="#565656"/><circle cx="721.3" cy="189.3" r="0.89" fill="#454545"/><ellipse cx="687.9" cy="173.0" rx="1.67" ry="0.91" transform="rotate(32 687.9 173.0)" fill="#616161"/><ellipse cx="724.6" cy="196.8" rx="1.09" ry="0.61" transform="rotate(8 724.6 196.8)" fill="#414141"/><circle cx="710.6" cy="190.2" r="1.07" fill="#373737"/><ellipse cx="684.8" cy="204.2" rx="1.47" ry="0.84" transform="rotate(42 684.8 204.2)" fill="#535353"/><circle cx="688.0" cy="197.1" r="0.92" fill="#636363"/><circle cx="678.0" cy="198.9" r="0.93" fill="#5f5f5f"/><ellipse cx="708.7" cy="172.7" rx="1.59" ry="0.93" transform="rotate(65 708.7 172.7)" fill="#5e5e5e"/><ellipse cx="672.6" cy="186.9" rx="1.25" ry="0.74" transform="rotate(63 672.6 186.9)" fill="#484848"/><ellipse cx="699.3" cy="186.3" rx="1.29" ry="0.90" transform="rotate(34 699.3 186.3)" fill="#3f3f3f"/><ellipse cx="693.7" cy="192.2" rx="1.51" ry="0.82" transform="rotate(95 693.7 192.2)" fill="#4f4f4f"/><circle cx="687.1" cy="189.5" r="1.12" fill="#4c4c4c"/><circle cx="690.5" cy="182.8" r="0.98" fill="#404040"/><circle cx="693.3" cy="203.1" r="0.93" fill="#5d5d5d"/><circle cx="725.4" cy="186.1" r="0.91" fill="#383838"/><ellipse cx="693.1" cy="169.1" rx="1.20" ry="0.75" transform="rotate(149 693.1 169.1)" fill="#3a3a3a"/><circle cx="701.7" cy="179.4" r="0.86" fill="#575757"/><ellipse cx="701.0" cy="197.7" rx="1.24" ry="0.74" transform="rotate(95 701.0 197.7)" fill="#515151"/><ellipse cx="715.6" cy="198.6" rx="1.45" ry="0.84" transform="rotate(144 715.6 198.6)" fill="#3a3a3a"/><circle cx="679.7" cy="193.4" r="0.90" fill="#464646"/>
<path clip-path="url(#cp3)" d="M339.20,121.70L383.50,166.00M339.20,130.10L383.50,174.40M339.20,134.10L383.50,178.40M339.20,142.50L383.50,186.80M339.20,146.50L383.50,190.80M339.20,154.90L383.50,199.20M339.20,158.90L383.50,203.20M339.20,167.30L383.50,211.60M339.20,171.30L383.50,215.60M339.20,179.70L383.50,224.00M339.20,183.70L383.50,228.00M339.20,192.10L383.50,236.40M339.20,196.10L383.50,240.40M339.20,204.50L383.50,248.80" stroke="#525252" stroke-width="1.05" fill="none"/>
<polygon points="341.2,163.9 369.7,163.9 369.7,177.6 381.5,177.6 381.5,207.3 357.4,207.3 357.4,177.6 341.2,177.6" fill="none" stroke="#5c5c5c" stroke-width="1.0" />
<path clip-path="url(#cp4)" d="M640.60,121.50L685.70,166.60M640.60,125.50L685.70,170.60M640.60,133.90L685.70,179.00M640.60,137.90L685.70,183.00M640.60,146.30L685.70,191.40M640.60,150.30L685.70,195.40M640.60,158.70L685.70,203.80M640.60,162.70L685.70,207.80M640.60,171.10L685.70,216.20M640.60,175.10L685.70,220.20M640.60,183.50L685.70,228.60M640.60,187.50L685.70,232.60M640.60,195.90L685.70,241.00M640.60,199.90L685.70,245.00" stroke="#525252" stroke-width="1.05" fill="none"/>
<polygon points="656.6,163.9 683.7,163.9 683.7,177.6 668.4,177.6 668.4,207.3 642.6,207.3 642.6,177.6 656.6,177.6" fill="none" stroke="#5c5c5c" stroke-width="1.0" />
<path clip-path="url(#cp5)" d="M369.20,166.30L656.60,-121.10M369.20,174.00L656.60,-113.40M369.20,178.30L656.60,-109.10M369.20,186.00L656.60,-101.40M369.20,190.30L656.60,-97.10M369.20,198.00L656.60,-89.40M369.20,202.30L656.60,-85.10M369.20,210.00L656.60,-77.40M369.20,214.30L656.60,-73.10M369.20,222.00L656.60,-65.40M369.20,226.30L656.60,-61.10M369.20,234.00L656.60,-53.40M369.20,238.30L656.60,-49.10M369.20,246.00L656.60,-41.40M369.20,250.30L656.60,-37.10M369.20,258.00L656.60,-29.40M369.20,262.30L656.60,-25.10M369.20,270.00L656.60,-17.40M369.20,274.30L656.60,-13.10M369.20,282.00L656.60,-5.40M369.20,286.30L656.60,-1.10M369.20,294.00L656.60,6.60M369.20,298.30L656.60,10.90M369.20,306.00L656.60,18.60M369.20,310.30L656.60,22.90M369.20,318.00L656.60,30.60M369.20,322.30L656.60,34.90M369.20,330.00L656.60,42.60M369.20,334.30L656.60,46.90M369.20,342.00L656.60,54.60M369.20,346.30L656.60,58.90M369.20,354.00L656.60,66.60M369.20,358.30L656.60,70.90M369.20,366.00L656.60,78.60M369.20,370.30L656.60,82.90M369.20,378.00L656.60,90.60M369.20,382.30L656.60,94.90M369.20,390.00L656.60,102.60M369.20,394.30L656.60,106.90M369.20,402.00L656.60,114.60M369.20,406.30L656.60,118.90M369.20,414.00L656.60,126.60M369.20,418.30L656.60,130.90M369.20,426.00L656.60,138.60M369.20,430.30L656.60,142.90M369.20,438.00L656.60,150.60M369.20,442.30L656.60,154.90M369.20,450.00L656.60,162.60M369.20,454.30L656.60,166.90M369.20,462.00L656.60,174.60M369.20,466.30L656.60,178.90M369.20,474.00L656.60,186.60M369.20,478.30L656.60,190.90M369.20,486.00L656.60,198.60" stroke="#525252" stroke-width="1.05" fill="none"/>
<polygon points="371.2,163.9 654.6,163.9 654.6,177.6 615.9,177.6 615.9,200.5 605.8,200.5 605.8,177.6 554.2,177.6 554.2,189.4 542.9,189.4 542.9,177.6 481.6,177.6 481.6,189.4 469.2,189.4 469.2,177.6 418.3,177.6 418.3,200.5 408.2,200.5 408.2,177.6 371.2,177.6" fill="none" stroke="#5c5c5c" stroke-width="1.0" />
<line x1="294.5" y1="163.9" x2="729.5" y2="163.9" stroke="#a0a0a0" stroke-width="2.0" />
<rect x="376.9" y="362.7" width="4.100000000000023" height="18.400000000000034" fill="#ffffff" stroke="none" stroke-width="0" />
<rect x="643.1" y="362.7" width="4.100000000000023" height="18.400000000000034" fill="#ffffff" stroke="none" stroke-width="0" />
<line x1="276" y1="362.7" x2="399.3" y2="362.7" stroke="#a6a6a6" stroke-width="1.3" />
<line x1="276" y1="372.0" x2="399.3" y2="372.0" stroke="#a6a6a6" stroke-width="1.3" />
<line x1="276" y1="381.1" x2="399.3" y2="381.1" stroke="#a6a6a6" stroke-width="1.3" />
<line x1="428.9" y1="362.7" x2="436.1" y2="362.7" stroke="#a6a6a6" stroke-width="1.3" />
<line x1="428.9" y1="372.0" x2="436.1" y2="372.0" stroke="#a6a6a6" stroke-width="1.3" />
<line x1="428.9" y1="381.1" x2="436.1" y2="381.1" stroke="#a6a6a6" stroke-width="1.3" />
<line x1="582.4" y1="362.7" x2="588.4" y2="362.7" stroke="#a6a6a6" stroke-width="1.3" />
<line x1="582.4" y1="372.0" x2="588.4" y2="372.0" stroke="#a6a6a6" stroke-width="1.3" />
<line x1="582.4" y1="381.1" x2="588.4" y2="381.1" stroke="#a6a6a6" stroke-width="1.3" />
<line x1="618.8" y1="362.7" x2="740.4" y2="362.7" stroke="#a6a6a6" stroke-width="1.3" />
<line x1="618.8" y1="372.0" x2="740.4" y2="372.0" stroke="#a6a6a6" stroke-width="1.3" />
<line x1="618.8" y1="381.1" x2="740.4" y2="381.1" stroke="#a6a6a6" stroke-width="1.3" />
<ellipse cx="275.9" cy="372" rx="2.7" ry="9" fill="#fff" stroke="#a6a6a6" stroke-width="1.1"/>
<ellipse cx="740.4" cy="372" rx="2.7" ry="9" fill="#fff" stroke="#a6a6a6" stroke-width="1.1"/>
<g transform="translate(0,0)">
<rect x="406.2" y="381.1" width="16.400000000000034" height="43.69999999999999" fill="#fff" stroke="#4a4a4a" stroke-width="1.0" />
<line x1="406.2" y1="387.0" x2="422.6" y2="387.0" stroke="#4a4a4a" stroke-width="1.0" />
<line x1="406.2" y1="394.4" x2="422.6" y2="394.4" stroke="#4a4a4a" stroke-width="1.0" />
<line x1="406.2" y1="401.5" x2="422.6" y2="401.5" stroke="#4a4a4a" stroke-width="1.0" />
<line x1="406.2" y1="408.6" x2="422.6" y2="408.6" stroke="#4a4a4a" stroke-width="1.0" />
<line x1="406.2" y1="416.4" x2="422.6" y2="416.4" stroke="#4a4a4a" stroke-width="1.0" />
<line x1="412.9" y1="381.1" x2="412.9" y2="387.0" stroke="#333" stroke-width="0.9" />
<line x1="414.8" y1="381.1" x2="414.8" y2="387.0" stroke="#333" stroke-width="0.9" />
<line x1="412.9" y1="394.4" x2="412.9" y2="401.5" stroke="#333" stroke-width="0.9" />
<line x1="414.8" y1="394.4" x2="414.8" y2="401.5" stroke="#333" stroke-width="0.9" />
<line x1="412.9" y1="408.6" x2="412.9" y2="416.4" stroke="#333" stroke-width="0.9" />
<line x1="414.8" y1="408.6" x2="414.8" y2="416.4" stroke="#333" stroke-width="0.9" />
<polygon points="407.5,381.1 408.8,379.6 420,379.6 421.3,381.1" fill="#bbb" stroke="#4a4a4a" stroke-width="0.7" />
<rect x="399.3" y="360.2" width="5.7" height="23.2" fill="#fff" stroke="#4a4a4a" stroke-width="1.0" />
<line x1="401.7" y1="360.2" x2="401.7" y2="383.4" stroke="#333" stroke-width="0.7" />
<line x1="403.1" y1="360.2" x2="403.1" y2="383.4" stroke="#333" stroke-width="0.7" />
<rect x="423.7" y="360.2" width="5.2" height="23.2" fill="#fff" stroke="#4a4a4a" stroke-width="1.0" />
<line x1="425.6" y1="360.2" x2="425.6" y2="383.4" stroke="#333" stroke-width="0.7" />
<line x1="427.0" y1="360.2" x2="427.0" y2="383.4" stroke="#333" stroke-width="0.7" />
<path d="M405,362.6 L407.9,362.6 L407.9,359.9 M420.8,359.9 L420.8,362.6 L423.7,362.6 M405,381.1 L423.7,381.1" fill="none" stroke="#4a4a4a" stroke-width="1.0" />
<rect x="405.9" y="356.2" width="16.9" height="3.7" fill="#fff" stroke="#4a4a4a" stroke-width="1.0" />
<line x1="405.9" y1="357.4" x2="422.8" y2="357.4" stroke="#4a4a4a" stroke-width="0.7" />
<path d="M408.2,356.2 L408.2,345.9 M420.6,356.2 L420.6,345.9" fill="none" stroke="#4a4a4a" stroke-width="1.0" />
<path d="M408.6,345.9 L412.3,351.8 L412.3,356.2 M420.2,345.9 L416.4,351.8 L416.4,356.2" fill="none" stroke="#4a4a4a" stroke-width="1.0" />
<path d="M408.2,345.9 C409,344.5 409.4,344 409.6,343.3 M420.6,345.9 C419.8,344.5 419.4,344 419.2,343.3" fill="none" stroke="#4a4a4a" stroke-width="1.0" />
<rect x="409.5" y="337.1" width="9.2" height="6.2" fill="#fff" stroke="#4a4a4a" stroke-width="1.0" />
<rect x="409.3" y="334.8" width="9.5" height="2.5" fill="#6a6a6a" stroke="#333" stroke-width="0.8" rx="0.8"/>
<rect x="412.5" y="330.4" width="3.1" height="4.6" fill="#fff" stroke="#4a4a4a" stroke-width="0.8" />
<rect x="403.2" y="327.5" width="22.3" height="2.9" fill="#c8c8c8" stroke="#4a4a4a" stroke-width="0.9" rx="1.4"/>
</g>
<g transform="translate(189.5,0)">
<rect x="406.2" y="381.1" width="16.400000000000034" height="43.69999999999999" fill="#fff" stroke="#4a4a4a" stroke-width="1.0" />
<line x1="406.2" y1="387.0" x2="422.6" y2="387.0" stroke="#4a4a4a" stroke-width="1.0" />
<line x1="406.2" y1="394.4" x2="422.6" y2="394.4" stroke="#4a4a4a" stroke-width="1.0" />
<line x1="406.2" y1="401.5" x2="422.6" y2="401.5" stroke="#4a4a4a" stroke-width="1.0" />
<line x1="406.2" y1="408.6" x2="422.6" y2="408.6" stroke="#4a4a4a" stroke-width="1.0" />
<line x1="406.2" y1="416.4" x2="422.6" y2="416.4" stroke="#4a4a4a" stroke-width="1.0" />
<line x1="412.9" y1="381.1" x2="412.9" y2="387.0" stroke="#333" stroke-width="0.9" />
<line x1="414.8" y1="381.1" x2="414.8" y2="387.0" stroke="#333" stroke-width="0.9" />
<line x1="412.9" y1="394.4" x2="412.9" y2="401.5" stroke="#333" stroke-width="0.9" />
<line x1="414.8" y1="394.4" x2="414.8" y2="401.5" stroke="#333" stroke-width="0.9" />
<line x1="412.9" y1="408.6" x2="412.9" y2="416.4" stroke="#333" stroke-width="0.9" />
<line x1="414.8" y1="408.6" x2="414.8" y2="416.4" stroke="#333" stroke-width="0.9" />
<polygon points="407.5,381.1 408.8,379.6 420,379.6 421.3,381.1" fill="#bbb" stroke="#4a4a4a" stroke-width="0.7" />
<rect x="399.3" y="360.2" width="5.7" height="23.2" fill="#fff" stroke="#4a4a4a" stroke-width="1.0" />
<line x1="401.7" y1="360.2" x2="401.7" y2="383.4" stroke="#333" stroke-width="0.7" />
<line x1="403.1" y1="360.2" x2="403.1" y2="383.4" stroke="#333" stroke-width="0.7" />
<rect x="423.7" y="360.2" width="5.2" height="23.2" fill="#fff" stroke="#4a4a4a" stroke-width="1.0" />
<line x1="425.6" y1="360.2" x2="425.6" y2="383.4" stroke="#333" stroke-width="0.7" />
<line x1="427.0" y1="360.2" x2="427.0" y2="383.4" stroke="#333" stroke-width="0.7" />
<path d="M405,362.6 L407.9,362.6 L407.9,359.9 M420.8,359.9 L420.8,362.6 L423.7,362.6 M405,381.1 L423.7,381.1" fill="none" stroke="#4a4a4a" stroke-width="1.0" />
<rect x="405.9" y="356.2" width="16.9" height="3.7" fill="#fff" stroke="#4a4a4a" stroke-width="1.0" />
<line x1="405.9" y1="357.4" x2="422.8" y2="357.4" stroke="#4a4a4a" stroke-width="0.7" />
<path d="M408.2,356.2 L408.2,345.9 M420.6,356.2 L420.6,345.9" fill="none" stroke="#4a4a4a" stroke-width="1.0" />
<path d="M408.6,345.9 L412.3,351.8 L412.3,356.2 M420.2,345.9 L416.4,351.8 L416.4,356.2" fill="none" stroke="#4a4a4a" stroke-width="1.0" />
<path d="M408.2,345.9 C409,344.5 409.4,344 409.6,343.3 M420.6,345.9 C419.8,344.5 419.4,344 419.2,343.3" fill="none" stroke="#4a4a4a" stroke-width="1.0" />
<rect x="409.5" y="337.1" width="9.2" height="6.2" fill="#fff" stroke="#4a4a4a" stroke-width="1.0" />
<rect x="409.3" y="334.8" width="9.5" height="2.5" fill="#6a6a6a" stroke="#333" stroke-width="0.8" rx="0.8"/>
<rect x="412.5" y="330.4" width="3.1" height="4.6" fill="#fff" stroke="#4a4a4a" stroke-width="0.8" />
<rect x="403.2" y="327.5" width="22.3" height="2.9" fill="#c8c8c8" stroke="#4a4a4a" stroke-width="0.9" rx="1.4"/>
</g>
<rect x="436.1" y="360.9" width="6.699999999999989" height="22.5" fill="#fff" stroke="#4a4a4a" stroke-width="1.0" />
<rect x="450.6" y="360.9" width="7.199999999999989" height="22.5" fill="#fff" stroke="#4a4a4a" stroke-width="1.0" />
<line x1="436.1" y1="367.1" x2="442.8" y2="367.1" stroke="#4a4a4a" stroke-width="1.0" />
<line x1="450.6" y1="367.1" x2="457.8" y2="367.1" stroke="#4a4a4a" stroke-width="1.0" />
<line x1="436.1" y1="377.0" x2="442.8" y2="377.0" stroke="#4a4a4a" stroke-width="1.0" />
<line x1="450.6" y1="377.0" x2="457.8" y2="377.0" stroke="#4a4a4a" stroke-width="1.0" />
<rect x="442.8" y="355.7" width="7.800000000000011" height="31.8" fill="#fff" stroke="#4a4a4a" stroke-width="1.0" />
<rect x="560.6" y="360.9" width="6.600000000000023" height="22.5" fill="#fff" stroke="#4a4a4a" stroke-width="1.0" />
<rect x="575.5" y="360.9" width="6.899999999999977" height="22.5" fill="#fff" stroke="#4a4a4a" stroke-width="1.0" />
<line x1="560.6" y1="367.1" x2="567.2" y2="367.1" stroke="#4a4a4a" stroke-width="1.0" />
<line x1="575.5" y1="367.1" x2="582.4" y2="367.1" stroke="#4a4a4a" stroke-width="1.0" />
<line x1="560.6" y1="377.0" x2="567.2" y2="377.0" stroke="#4a4a4a" stroke-width="1.0" />
<line x1="575.5" y1="377.0" x2="582.4" y2="377.0" stroke="#4a4a4a" stroke-width="1.0" />
<rect x="567.2" y="355.7" width="8.299999999999955" height="31.8" fill="#fff" stroke="#4a4a4a" stroke-width="1.0" />
<g>
<path d="M494.6,308.4 Q509.3,297.8 524.2,308.4" fill="none" stroke="#4a4a4a" stroke-width="1.0" />
<rect x="494.6" y="308.4" width="29.6" height="15.0" fill="#fff" stroke="#4a4a4a" stroke-width="1.0" />
<line x1="494.6" y1="311.2" x2="524.2" y2="311.2" stroke="#888" stroke-width="1.0" />
<path d="M494.8,323.5 C485,325.5 477.5,331 474.6,338.4 M523.8,323.5 C533.6,325.5 541.1,331 544.0,338.4" fill="none" stroke="#4a4a4a" stroke-width="1.0" />
<rect x="469.59999999999997" y="337.3" width="7.2" height="3.8" fill="#fff" stroke="#4a4a4a" stroke-width="0.8" />
<line x1="472.0" y1="337.3" x2="472.0" y2="341.1" stroke="#4a4a4a" stroke-width="0.6" />
<line x1="474.4" y1="337.3" x2="474.4" y2="341.1" stroke="#4a4a4a" stroke-width="0.6" />
<rect x="486.2" y="337.3" width="7.2" height="3.8" fill="#fff" stroke="#4a4a4a" stroke-width="0.8" />
<line x1="488.6" y1="337.3" x2="488.6" y2="341.1" stroke="#4a4a4a" stroke-width="0.6" />
<line x1="491.0" y1="337.3" x2="491.0" y2="341.1" stroke="#4a4a4a" stroke-width="0.6" />
<rect x="505.29999999999995" y="337.3" width="7.2" height="3.8" fill="#fff" stroke="#4a4a4a" stroke-width="0.8" />
<line x1="507.7" y1="337.3" x2="507.7" y2="341.1" stroke="#4a4a4a" stroke-width="0.6" />
<line x1="510.09999999999997" y1="337.3" x2="510.09999999999997" y2="341.1" stroke="#4a4a4a" stroke-width="0.6" />
<rect x="524.3" y="337.3" width="7.2" height="3.8" fill="#fff" stroke="#4a4a4a" stroke-width="0.8" />
<line x1="526.6999999999999" y1="337.3" x2="526.6999999999999" y2="341.1" stroke="#4a4a4a" stroke-width="0.6" />
<line x1="529.1" y1="337.3" x2="529.1" y2="341.1" stroke="#4a4a4a" stroke-width="0.6" />
<rect x="540.9" y="337.3" width="7.2" height="3.8" fill="#fff" stroke="#4a4a4a" stroke-width="0.8" />
<line x1="543.3" y1="337.3" x2="543.3" y2="341.1" stroke="#4a4a4a" stroke-width="0.6" />
<line x1="545.7" y1="337.3" x2="545.7" y2="341.1" stroke="#4a4a4a" stroke-width="0.6" />
<rect x="467.4" y="341.1" width="83.4" height="10.3" fill="#fff" stroke="#4a4a4a" stroke-width="1.0" />
<line x1="467.4" y1="345.6" x2="550.8" y2="345.6" stroke="#4a4a4a" stroke-width="0.9" />
<path d="M458.3,362.6 C465,362.6 469.3,358 469.3,351.4 M560.3,362.6 C553.6,362.6 549.3,358 549.3,351.4" fill="none" stroke="#4a4a4a" stroke-width="1.0" />
<path d="M458.3,362.6 L458.3,381.2 M560.3,362.6 L560.3,381.2" fill="none" stroke="#4a4a4a" stroke-width="1.0" />
<path d="M458.3,381.4 L469.5,381.6 C474,382.5 475.5,388.5 480,391.2 L503,392.8 M560.3,381.4 L549.1,381.6 C544.6,382.5 543.1,388.5 538.6,391.2 L515.6,392.8" fill="none" stroke="#4a4a4a" stroke-width="1.0" />
<path d="M474.6,376.2 C476,383 477,388.5 482,391.5 M544.0,376.2 C542.6,383 541.6,388.5 536.6,391.5" fill="none" stroke="#4a4a4a" stroke-width="1.0" />
<path d="M502.6,386.5 C504.5,389 505,392 504.8,395.8 M516.0,386.5 C514.1,389 513.6,392 513.8,395.8" fill="none" stroke="#4a4a4a" stroke-width="1.0" />
<line x1="476.7" y1="390" x2="476.7" y2="395.8" stroke="#4a4a4a" stroke-width="0.9" />
<line x1="482.2" y1="391.5" x2="482.2" y2="395.8" stroke="#4a4a4a" stroke-width="0.9" />
<line x1="536.4000000000001" y1="390" x2="536.4000000000001" y2="395.8" stroke="#4a4a4a" stroke-width="0.9" />
<line x1="541.9000000000001" y1="391.5" x2="541.9000000000001" y2="395.8" stroke="#4a4a4a" stroke-width="0.9" />
<line x1="482.2" y1="393.6" x2="504.5" y2="393.6" stroke="#4a4a4a" stroke-width="0.8" />
<line x1="514.1" y1="393.6" x2="536.4000000000001" y2="393.6" stroke="#4a4a4a" stroke-width="0.8" />
</g>
<rect x="469.8" y="395.8" width="76.59999999999997" height="29.0" fill="#fff" stroke="#4a4a4a" stroke-width="1.0" />
<line x1="469.8" y1="401.3" x2="546.4" y2="401.3" stroke="#4a4a4a" stroke-width="1.0" />
<line x1="469.8" y1="408.6" x2="546.4" y2="408.6" stroke="#4a4a4a" stroke-width="1.0" />
<line x1="469.8" y1="416.3" x2="546.4" y2="416.3" stroke="#4a4a4a" stroke-width="1.0" />
<line x1="479.0" y1="395.8" x2="479.0" y2="401.3" stroke="#333" stroke-width="0.9" />
<line x1="480.79999999999995" y1="395.8" x2="480.79999999999995" y2="401.3" stroke="#333" stroke-width="0.9" />
<line x1="501.0" y1="395.8" x2="501.0" y2="401.3" stroke="#333" stroke-width="0.9" />
<line x1="502.79999999999995" y1="395.8" x2="502.79999999999995" y2="401.3" stroke="#333" stroke-width="0.9" />
<line x1="523.5" y1="395.8" x2="523.5" y2="401.3" stroke="#333" stroke-width="0.9" />
<line x1="525.3" y1="395.8" x2="525.3" y2="401.3" stroke="#333" stroke-width="0.9" />
<line x1="544.1" y1="395.8" x2="544.1" y2="401.3" stroke="#333" stroke-width="0.9" />
<line x1="545.9" y1="395.8" x2="545.9" y2="401.3" stroke="#333" stroke-width="0.9" />
<line x1="490.5" y1="401.3" x2="490.5" y2="408.6" stroke="#333" stroke-width="0.9" />
<line x1="492.29999999999995" y1="401.3" x2="492.29999999999995" y2="408.6" stroke="#333" stroke-width="0.9" />
<line x1="512.5" y1="401.3" x2="512.5" y2="408.6" stroke="#333" stroke-width="0.9" />
<line x1="514.3" y1="401.3" x2="514.3" y2="408.6" stroke="#333" stroke-width="0.9" />
<line x1="534.5" y1="401.3" x2="534.5" y2="408.6" stroke="#333" stroke-width="0.9" />
<line x1="536.3" y1="401.3" x2="536.3" y2="408.6" stroke="#333" stroke-width="0.9" />
<line x1="479.0" y1="408.6" x2="479.0" y2="416.3" stroke="#333" stroke-width="0.9" />
<line x1="480.79999999999995" y1="408.6" x2="480.79999999999995" y2="416.3" stroke="#333" stroke-width="0.9" />
<line x1="501.0" y1="408.6" x2="501.0" y2="416.3" stroke="#333" stroke-width="0.9" />
<line x1="502.79999999999995" y1="408.6" x2="502.79999999999995" y2="416.3" stroke="#333" stroke-width="0.9" />
<line x1="523.5" y1="408.6" x2="523.5" y2="416.3" stroke="#333" stroke-width="0.9" />
<line x1="525.3" y1="408.6" x2="525.3" y2="416.3" stroke="#333" stroke-width="0.9" />
<line x1="544.1" y1="408.6" x2="544.1" y2="416.3" stroke="#333" stroke-width="0.9" />
<line x1="545.9" y1="408.6" x2="545.9" y2="416.3" stroke="#333" stroke-width="0.9" />
<line x1="490.5" y1="416.3" x2="490.5" y2="424.8" stroke="#333" stroke-width="0.9" />
<line x1="492.29999999999995" y1="416.3" x2="492.29999999999995" y2="424.8" stroke="#333" stroke-width="0.9" />
<line x1="512.5" y1="416.3" x2="512.5" y2="424.8" stroke="#333" stroke-width="0.9" />
<line x1="514.3" y1="416.3" x2="514.3" y2="424.8" stroke="#333" stroke-width="0.9" />
<line x1="534.5" y1="416.3" x2="534.5" y2="424.8" stroke="#333" stroke-width="0.9" />
<line x1="536.3" y1="416.3" x2="536.3" y2="424.8" stroke="#333" stroke-width="0.9" />
<line x1="592.3" y1="110.4" x2="697.9" y2="110.4" stroke="#555" stroke-width="0.9" />
<line x1="592.3" y1="110.4" x2="592.3" y2="163.2" stroke="#2a2a2a" stroke-width="0.9" />
<polygon points="592.3,163.4 591.0,158.9 593.5999999999999,158.9" fill="#2a2a2a" stroke="#2a2a2a" stroke-width="0.3" />
<line x1="224" y1="192.7" x2="311.6" y2="192.7" stroke="#555" stroke-width="0.9" />
<polygon points="311.6,192.7 307.1,194.0 307.1,191.39999999999998" fill="#2a2a2a" stroke="#2a2a2a" stroke-width="0.3" />
<line x1="173.7" y1="282.5" x2="307.5" y2="282.5" stroke="#333" stroke-width="0.9" />
<polygon points="307.5,282.5 303.0,283.8 303.0,281.2" fill="#2a2a2a" stroke="#2a2a2a" stroke-width="0.3" />
<line x1="509.8" y1="264.4" x2="518" y2="264.4" stroke="#2a2a2a" stroke-width="0.9" />
<line x1="509.8" y1="264.4" x2="509.8" y2="302.5" stroke="#2a2a2a" stroke-width="0.9" />
<polygon points="509.8,302.8 508.5,298.3 511.1,298.3" fill="#2a2a2a" stroke="#2a2a2a" stroke-width="0.3" />
<line x1="413.7" y1="286.3" x2="420" y2="286.3" stroke="#2a2a2a" stroke-width="0.9" />
<line x1="413.7" y1="286.3" x2="413.7" y2="327" stroke="#2a2a2a" stroke-width="0.9" />
<polygon points="413.7,327.3 412.4,322.8 415.0,322.8" fill="#2a2a2a" stroke="#2a2a2a" stroke-width="0.3" />
<line x1="598.1" y1="286.8" x2="604.9" y2="286.8" stroke="#888" stroke-width="0.9" />
<line x1="604.9" y1="286.8" x2="604.9" y2="326.6" stroke="#888" stroke-width="0.9" />
<polygon points="604.9,326.9 603.6,322.4 606.1999999999999,322.4" fill="#2a2a2a" stroke="#2a2a2a" stroke-width="0.3" />
<line x1="646" y1="290.2" x2="821.3" y2="290.2" stroke="#333" stroke-width="0.9" />
<polygon points="644.8,290.2 649.3,288.9 649.3,291.5" fill="#2a2a2a" stroke="#2a2a2a" stroke-width="0.3" />
<line x1="234" y1="460.8" x2="286.5" y2="460.8" stroke="#333" stroke-width="0.9" />
<polygon points="286.8,460.8 282.3,462.1 282.3,459.5" fill="#2a2a2a" stroke="#2a2a2a" stroke-width="0.3" />
<text x="603.00" y="95.70" font-family="Liberation Sans" font-size="11.92" font-weight="normal" fill="#151515" stroke="#151515" stroke-width="0.38" textLength="98.40" lengthAdjust="spacingAndGlyphs">C.I FRAME AND COVER</text>
<text x="602.60" y="108.00" font-family="Liberation Sans" font-size="11.34" font-weight="normal" fill="#151515" stroke="#151515" stroke-width="0.38" textLength="95.30" lengthAdjust="spacingAndGlyphs">600mm INTERNAL DIA</text>
<text x="601.90" y="123.00" font-family="Liberation Sans" font-size="12.35" font-weight="normal" fill="#151515" stroke="#151515" stroke-width="0.38" textLength="63.10" lengthAdjust="spacingAndGlyphs">(HEAVY DUTY )</text>
<text x="189.80" y="187.90" font-family="Liberation Sans" font-size="11.48" font-weight="normal" fill="#151515" stroke="#151515" stroke-width="0.38" textLength="63.50" lengthAdjust="spacingAndGlyphs">(HEAVY DUTY )</text>
<text x="158.00" y="204.90" font-family="Liberation Sans" font-size="11.34" font-weight="normal" fill="#151515" stroke="#151515" stroke-width="0.38" textLength="93.00" lengthAdjust="spacingAndGlyphs">100 TH. P.C.C. (1:2:4)</text>
<text x="135.20" y="280.50" font-family="Liberation Sans" font-size="12.21" font-weight="normal" fill="#151515" stroke="#151515" stroke-width="0.38" textLength="72.70" lengthAdjust="spacingAndGlyphs">BRICK MASONRY</text>
<text x="134.60" y="294.60" font-family="Liberation Sans" font-size="11.92" font-weight="normal" fill="#151515" stroke="#151515" stroke-width="0.38" textLength="110.40" lengthAdjust="spacingAndGlyphs">IN CEMENT MORTAR (1:4)</text>
<text x="518.75" y="271.00" font-family="Liberation Sans" font-size="11.92" font-weight="normal" fill="#151515" stroke="#151515" stroke-width="0.38" textLength="62.50" lengthAdjust="spacingAndGlyphs">WATER METER</text>
<text x="420.50" y="292.50" font-family="Liberation Sans" font-size="12.50" font-weight="normal" fill="#151515" stroke="#151515" stroke-width="0.38" textLength="52.70" lengthAdjust="spacingAndGlyphs">VALVE(TYP.)</text>
<text x="525.00" y="290.20" font-family="Liberation Sans" font-size="12.79" font-weight="normal" fill="#151515" stroke="#151515" stroke-width="0.38" textLength="52.30" lengthAdjust="spacingAndGlyphs">VALVE(TYP.)</text>
<text x="748.60" y="288.30" font-family="Liberation Sans" font-size="11.34" font-weight="normal" fill="#151515" stroke="#151515" stroke-width="0.38" textLength="142.65" lengthAdjust="spacingAndGlyphs">CEMENT PLASTER 12mm TH(1:3)</text>
<text x="772.50" y="301.60" font-family="Liberation Sans" font-size="11.92" font-weight="normal" fill="#151515" stroke="#151515" stroke-width="0.38" textLength="119.10" lengthAdjust="spacingAndGlyphs">FINISHED WITH A FLOATING</text>
<text x="770.00" y="314.00" font-family="Liberation Sans" font-size="11.77" font-weight="normal" fill="#151515" stroke="#151515" stroke-width="0.38" textLength="101.00" lengthAdjust="spacingAndGlyphs">COAT OF NEAT CEMENT</text>
<text x="115.80" y="464.50" font-family="Liberation Sans" font-size="11.63" font-weight="normal" fill="#151515" stroke="#151515" stroke-width="0.38" textLength="89.00" lengthAdjust="spacingAndGlyphs">C.CONC. BED (1:3:6)</text>
<rect x="357.6" y="499.4" width="275.6" height="59.89999999999998" fill="none" stroke="#8c8c8c" stroke-width="1.3" />
<text x="365.80" y="526.60" font-family="Liberation Sans" font-size="19.04" font-weight="normal" fill="#151515" stroke="#151515" stroke-width="0.38" textLength="196.60" lengthAdjust="spacingAndGlyphs">VALVE CHAMBER 600X600MM</text>
<text x="377.50" y="549.50" font-family="Liberation Sans" font-size="18.75" font-weight="normal" fill="#151515" stroke="#151515" stroke-width="0.38" textLength="159.40" lengthAdjust="spacingAndGlyphs">WITH METER AND VALVE</text>
<text x="63.00" y="648.60" font-family="Liberation Sans" font-size="14.97" font-weight="bold" fill="#151515" stroke="#151515" stroke-width="0.6" textLength="42.80" lengthAdjust="spacingAndGlyphs">NOTE :</text>
<text x="64.30" y="666.30" font-family="Liberation Sans" font-size="14.68" font-weight="bold" fill="#151515" stroke="#151515" stroke-width="0.6" textLength="313.60" lengthAdjust="spacingAndGlyphs">1) THIS DRAWING FOR EDUCATIONAL PURPOSE</text>
<text x="744.20" y="646.00" font-family="Liberation Sans" font-size="16.72" font-weight="bold" fill="#151515" stroke="#151515" stroke-width="0.6" textLength="177.50" lengthAdjust="spacingAndGlyphs">WATER METER DETAIL - 2</text>
<text x="729.20" y="670.40" font-family="Liberation Sans" font-size="16.28" font-weight="bold" fill="#151515" stroke="#151515" stroke-width="0.6" textLength="204.20" lengthAdjust="spacingAndGlyphs">ARCHI-MONARCH.IN/COM</text>
</svg></body></html>
